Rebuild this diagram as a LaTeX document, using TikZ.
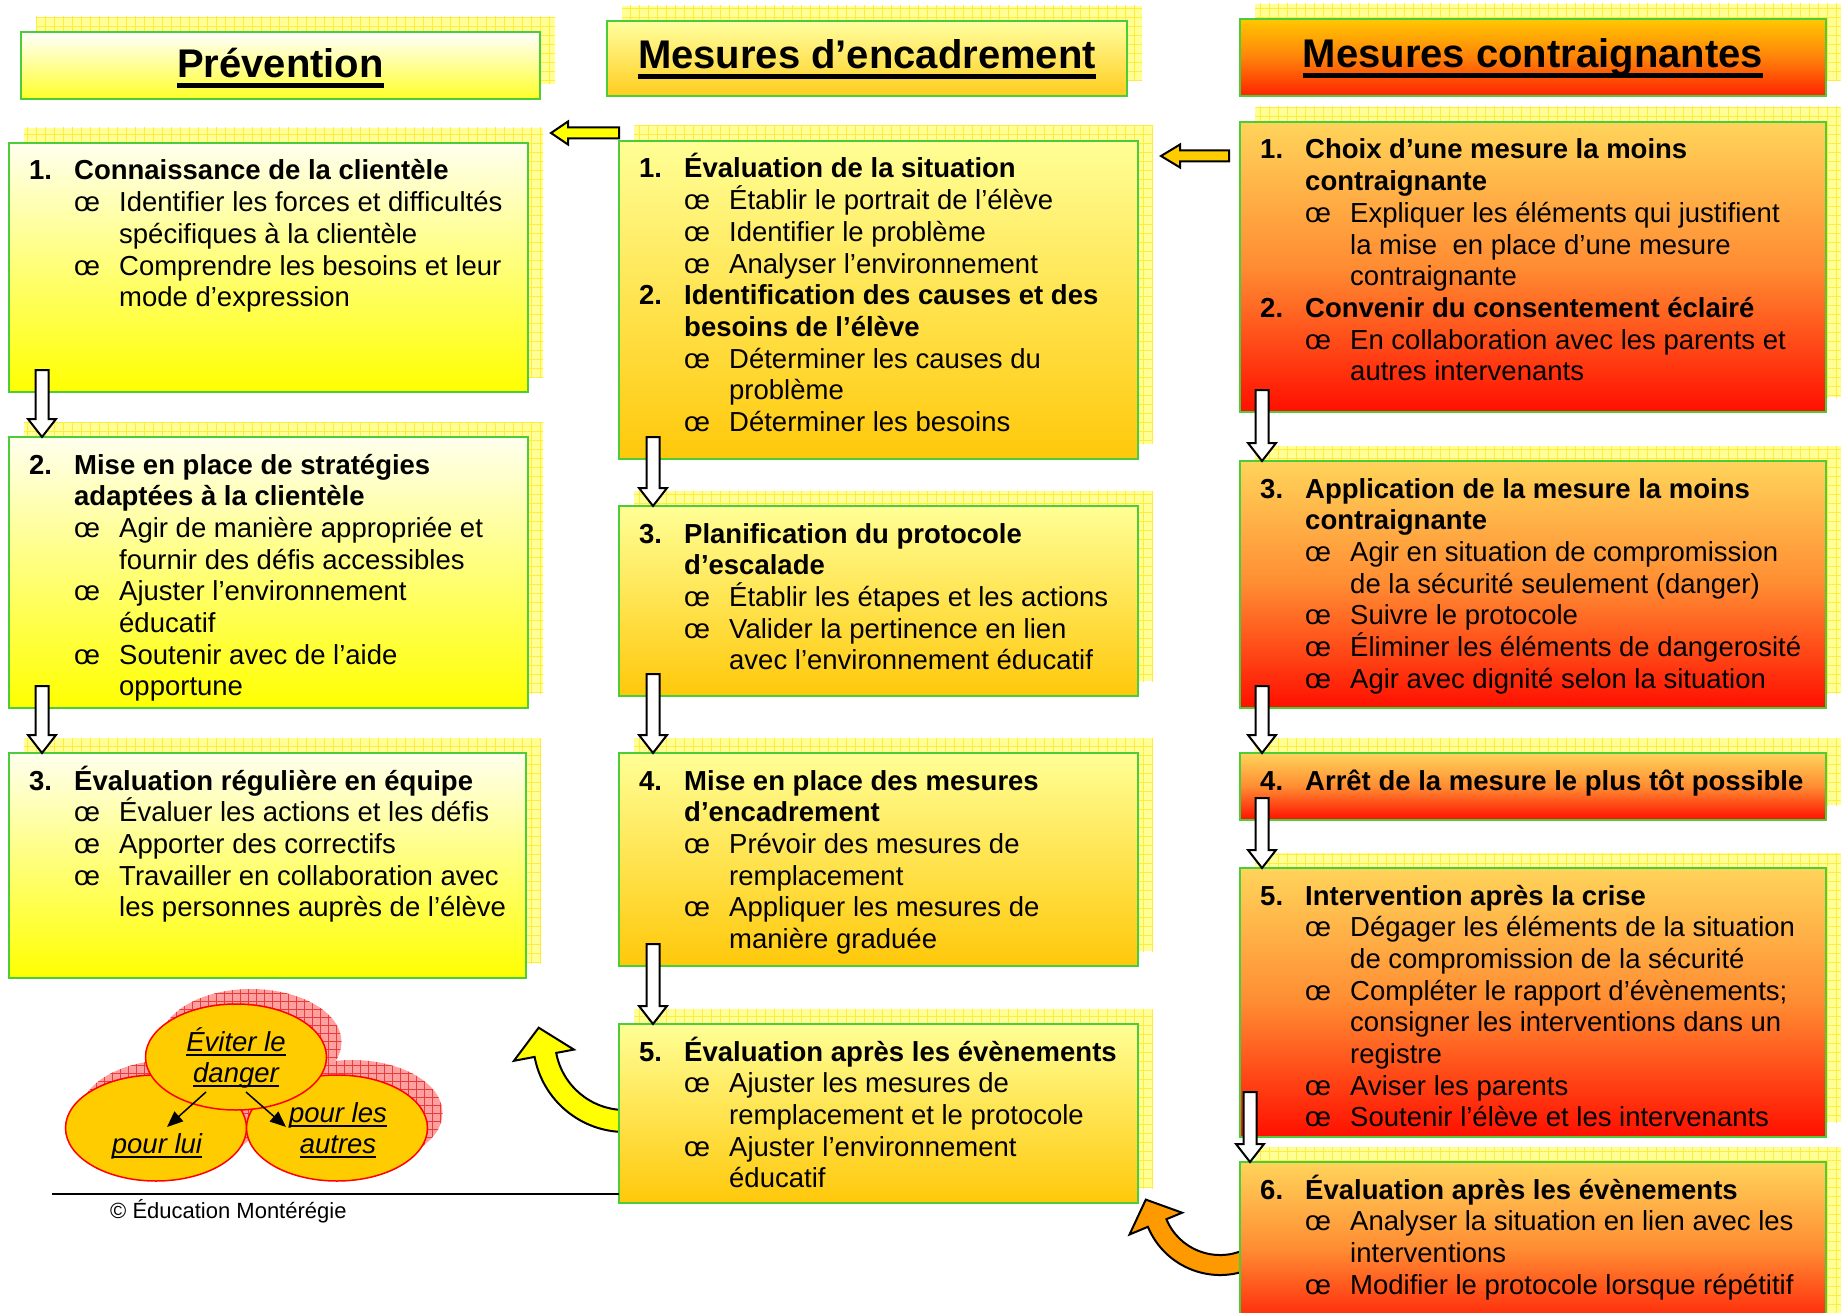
\documentclass[tikz,border=0pt]{standalone}
\usepackage{fontspec}
\setmainfont{Liberation Sans}
\usetikzlibrary{patterns.meta,calc,arrows.meta,shapes.geometric}

\definecolor{bordergreen}{RGB}{76,204,56}
\definecolor{shfill}{RGB}{255,255,150}
\definecolor{shline}{RGB}{255,236,60}
\definecolor{pinkfill}{RGB}{255,160,160}
\definecolor{pinkline}{RGB}{235,60,60}
\definecolor{goldc}{RGB}{255,204,0}
\definecolor{arryel}{RGB}{255,255,0}
\definecolor{arrorange}{RGB}{255,153,0}
\definecolor{arrgold}{RGB}{255,204,0}
\definecolor{pTop}{RGB}{255,255,238}
\definecolor{pBot}{RGB}{255,255,0}
\definecolor{mTop}{RGB}{255,255,150}
\definecolor{mBot}{RGB}{255,200,10}
\definecolor{rTop}{RGB}{255,212,90}
\definecolor{rMid}{RGB}{255,140,50}
\definecolor{rBot}{RGB}{255,15,0}
\definecolor{hpTop}{RGB}{255,255,255}
\definecolor{hpBot}{RGB}{255,255,40}
\definecolor{hmTop}{RGB}{255,255,160}
\definecolor{hmBot}{RGB}{255,205,30}
\definecolor{hrTop}{RGB}{255,200,0}
\definecolor{hrMid}{RGB}{255,130,10}
\definecolor{hrBot}{RGB}{255,35,0}

\newcommand\bodyfont{\fontsize{27.5pt}{31.7pt}\selectfont}
\newcommand\hdfont{\fontsize{40pt}{48pt}\selectfont\bfseries}
\newcommand\ttl[2]{\par\noindent\hangindent=45pt\hangafter=1{\bfseries\makebox[45pt][l]{#1}#2}}
\newcommand\bul[1]{\par\noindent\hangindent=90pt\hangafter=1\hspace*{45pt}\makebox[45pt][l]{œ}#1}
\newcommand\hdul[1]{\leavevmode\setbox0\hbox{#1}\rlap{\rule[-10pt]{\wd0}{4.5pt}}\box0}
\newcommand\elul[1]{\leavevmode\setbox0\hbox{#1}\rlap{\rule[-4.5pt]{\wd0}{2pt}}\box0}

\newcommand\shadowrect[4]{%
  \fill[shfill] (#1+15,#2-15) rectangle ++(#3,#4);
  \fill[pattern={Hatch[angle=0,distance=9pt,line width=0.8pt]},pattern color=shline] (#1+15,#2-15) rectangle ++(#3,#4);}
\newcommand\bx[6]{\shadowrect{#2}{#3}{#4}{#5}%
  \node[#6, minimum width=#4pt, minimum height=#5pt, anchor=north west] (#1) at (#2,#3) {};}
\newcommand\bxt[2]{\node[txt] (#1t) at ($(#1.north west)+(20,37)$) {\parbox[t]{570pt}{#2}};}
\newcommand\dnarr[4]{%
  \draw[blkarr] let \p1=($(#1.south west)+(#3,0)$), \p2=(#2.north) in
   (\x1-6.5pt,\y1+#4pt) -- (\x1+6.5pt,\y1+#4pt) -- (\x1+6.5pt,\y2+18pt) -- (\x1+14pt,\y2+18pt)
   -- (\x1,\y2) -- (\x1-14pt,\y2+18pt) -- (\x1-6.5pt,\y2+18pt) -- cycle;}
\newcommand\lfarr[4]{%
  \draw[blkarr, fill=#4] let \p1=(#1) in
   (\x1,\y1+5.5pt) -- (\x1-#2pt+#3pt,\y1+5.5pt) -- (\x1-#2pt+#3pt,\y1+11.5pt) -- (\x1-#2pt,\y1)
   -- (\x1-#2pt+#3pt,\y1-11.5pt) -- (\x1-#2pt+#3pt,\y1-5.5pt) -- (\x1,\y1-5.5pt) -- cycle;}

\tikzset{
  boxbase/.style={rectangle, draw=bordergreen, line width=2.5pt, inner sep=0pt, outer sep=0pt},
  pbox/.style={boxbase, top color=pTop, bottom color=pBot},
  mbox/.style={boxbase, top color=mTop, bottom color=mBot},
  rbox/.style={boxbase, top color=rTop, bottom color=rBot, middle color=rMid},
  hpbox/.style={boxbase, top color=hpTop, bottom color=hpBot},
  hmbox/.style={boxbase, top color=hmTop, bottom color=hmBot},
  hrbox/.style={boxbase, top color=hrTop, bottom color=hrBot, middle color=hrMid},
  txt/.style={anchor=base west, inner sep=0pt, font=\bodyfont},
  hdtxt/.style={anchor=base, inner sep=0pt, font=\hdfont},
  blkarr/.style={draw=black, line width=2pt, fill=white, line join=miter},
  curvarr/.style={draw=black, line width=2pt, line join=miter},
  ellbox/.style={ellipse, draw=red, line width=1.5pt, fill=goldc, minimum width=181pt, minimum height=106pt, inner sep=0pt, outer sep=0pt},
  ellshadow/.style={fill=pinkfill},
  elltxt/.style={anchor=base, inner sep=0pt, font=\bodyfont\itshape},
  smallarr/.style={-{Triangle[length=16pt,width=13pt]}, line width=1.5pt, black}
}

\begin{document}
\begin{tikzpicture}[x=1pt,y=-1pt]
\useasboundingbox (0,0) rectangle (1841,1313);

% curved arrows (behind boxes)
\draw[curvarr, fill=arryel] (625,1132) .. controls (580.7,1132) and (542.8,1100.4) .. (534.6,1056.9)
  -- (513.9,1060.8) -- (538.7,1027.7) -- (573.9,1049.6) -- (556.2,1052.9)
  .. controls (562.4,1086.0) and (591.3,1110) .. (625,1110) -- cycle;
\draw[curvarr, fill=arrorange] (1253,1267.7) .. controls (1212.8,1286.5) and (1164.9,1267.8) .. (1147.9,1226.8)
  -- (1129.5,1234.5) -- (1145.8,1199.6) -- (1182.1,1212.7) -- (1166.4,1219.2)
  .. controls (1179.0,1249.7) and (1214.6,1263.6) .. (1244.5,1249.6) -- cycle;

% headers
\bx{HP}{21}{32}{519}{67}{hpbox}
\bx{HM}{607}{21}{520}{75}{hmbox}
\bx{HR}{1240}{19}{586}{77}{hrbox}
\node[hdtxt] (HPt) at ($(HP.north)+(0,46)$) {\hdul{Prévention}};
\node[hdtxt] (HMt) at ($(HM.north)+(0,48)$) {\hdul{Mesures d’encadrement}};
\node[hdtxt] (HRt) at ($(HR.north)+(0,49)$) {\hdul{Mesures contraignantes}};

% boxes
\bx{P1}{9}{143}{519}{249}{pbox}
\bx{P2}{9}{437}{519}{271}{pbox}
\bx{P3}{9}{753}{517}{225}{pbox}
\bx{M1}{619}{141}{519}{318}{mbox}
\bx{M3}{619}{506}{519}{190}{mbox}
\bx{M4}{619}{753}{519}{213}{mbox}
\bx{M5}{619}{1024}{519}{179}{mbox}
\bx{R1}{1240}{122}{586}{290}{rbox}
\bx{R3}{1240}{461}{586}{247}{rbox}
\bx{R4}{1240}{753}{586}{67}{rbox}
\bx{R5}{1240}{868}{586}{269}{rbox}
\bx{R6}{1240}{1162}{586}{175}{rbox}

% texts
\bxt{P1}{\ttl{1.}{Connaissance de la clientèle}
\bul{Identifier les forces et difficultés\newline spécifiques à la clientèle}
\bul{Comprendre les besoins et leur\newline mode d’expression}}
\bxt{P2}{\ttl{2.}{Mise en place de stratégies\newline adaptées à la clientèle}
\bul{Agir de manière appropriée et\newline fournir des défis accessibles}
\bul{Ajuster l’environnement\newline éducatif}
\bul{Soutenir avec de l’aide\newline opportune}}
\bxt{P3}{\ttl{3.}{Évaluation régulière en équipe}
\bul{Évaluer les actions et les défis}
\bul{Apporter des correctifs}
\bul{Travailler en collaboration avec\newline les personnes auprès de l’élève}}
\bxt{M1}{\ttl{1.}{Évaluation de la situation}
\bul{Établir le portrait de l’élève}
\bul{Identifier le problème}
\bul{Analyser l’environnement}
\ttl{2.}{Identification des causes et des\newline besoins de l’élève}
\bul{Déterminer les causes du\newline problème}
\bul{Déterminer les besoins}}
\bxt{M3}{\ttl{3.}{Planification du protocole\newline d’escalade}
\bul{Établir les étapes et les actions}
\bul{Valider la pertinence en lien\newline avec l’environnement éducatif}}
\bxt{M4}{\ttl{4.}{Mise en place des mesures\newline d’encadrement}
\bul{Prévoir des mesures de\newline remplacement}
\bul{Appliquer les mesures de\newline manière graduée}}
\bxt{M5}{\ttl{5.}{Évaluation après les évènements}
\bul{Ajuster les mesures de\newline remplacement et le protocole}
\bul{Ajuster l’environnement\newline éducatif}}
\bxt{R1}{\ttl{1.}{Choix d’une mesure la moins\newline contraignante}
\bul{Expliquer les éléments qui justifient\newline la mise\ \ en place d’une mesure\newline contraignante}
\ttl{2.}{Convenir du consentement éclairé}
\bul{En collaboration avec les parents et\newline autres intervenants}}
\bxt{R3}{\ttl{3.}{Application de la mesure la moins\newline contraignante}
\bul{Agir en situation de compromission\newline de la sécurité seulement (danger)}
\bul{Suivre le protocole}
\bul{Éliminer les éléments de dangerosité}
\bul{Agir avec dignité selon la situation}}
\bxt{R4}{\ttl{4.}{Arrêt de la mesure le plus tôt possible}}
\bxt{R5}{\ttl{5.}{Intervention après la crise}
\bul{Dégager les éléments de la situation\newline de compromission de la sécurité}
\bul{Compléter le rapport d’évènements;\newline consigner les interventions dans un\newline registre}
\bul{Aviser les parents}
\bul{Soutenir l’élève et les intervenants}}
\bxt{R6}{\ttl{6.}{Évaluation après les évènements}
\bul{Analyser la situation en lien avec les\newline interventions}
\bul{Modifier le protocole lorsque répétitif}}

% down block arrows
\dnarr{P1}{P2}{33}{22}
\dnarr{P2}{P3}{33}{22}
\dnarr{M1}{M3}{34}{22}
\dnarr{M3}{M4}{34}{22}
\dnarr{M4}{M5}{34}{22}
\dnarr{R1}{R3}{22}{22}
\dnarr{R3}{R4}{22}{22}
\dnarr{R4}{R5}{22}{22}
\dnarr{R5}{R6}{10}{45}

% left block arrows
\coordinate (A1tail) at ($(M1.north west)+(0,-8)$);
\coordinate (A2tail) at ($(R1.north west)+(-11,34)$);
\lfarr{A1tail}{68}{17}{arryel}
\lfarr{A2tail}{68}{19}{arrgold}

% ellipses
\coordinate (E1c) at (236,1057);
\coordinate (E2c) at (156,1128);
\coordinate (E3c) at (337,1128);
\foreach \c in {E1c,E2c,E3c}{
  \fill[ellshadow] ($(\c)+(15,-15)$) ellipse [x radius=90.5pt, y radius=53pt];
  \fill[pattern={Hatch[angle=0,distance=8pt,line width=0.8pt]},pattern color=pinkline] ($(\c)+(15,-15)$) ellipse [x radius=90.5pt, y radius=53pt];
}
\node[ellbox] (E2) at (E2c) {};
\node[ellbox] (E3) at (E3c) {};
\node[ellbox] (E1) at (E1c) {};
\draw[smallarr] ($(E1.center)+(-30,35)$) -- ($(E1.center)+(-69,70)$);
\draw[smallarr] ($(E1.center)+(10,35)$) -- ($(E1.center)+(50,70)$);
\node[elltxt] (E1t) at (236,1051) {\parbox[t]{200pt}{\centering\elul{Éviter le}\par\elul{danger}}};
\node[elltxt] (E2t) at (157,1153) {\elul{pour lui}};
\node[elltxt] (E3t) at (338,1122) {\parbox[t]{200pt}{\centering\elul{pour les}\par\elul{autres}}};

% footer
\coordinate (lineL) at (52,1194);
\draw[line width=1.5pt] (lineL) -- (lineL -| M5.west);
\node[anchor=base west, inner sep=0pt, font=\fontsize{22pt}{26pt}\selectfont] (copy) at (110,1218) {© Éducation Montérégie};
\end{tikzpicture}
\end{document}
